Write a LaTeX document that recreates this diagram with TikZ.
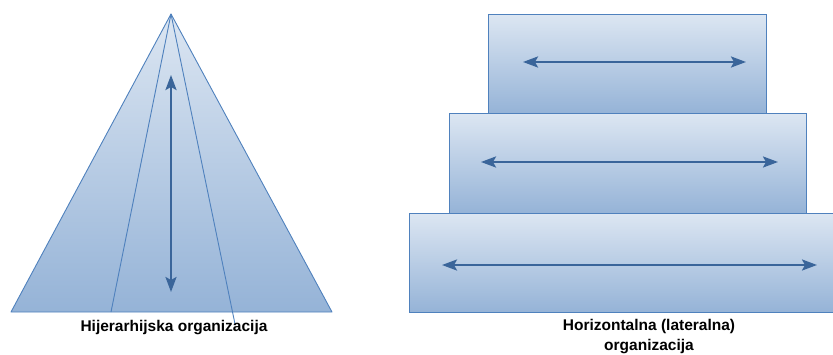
\documentclass[tikz,border=0pt]{standalone}
\usepackage{fontspec}
\setmainfont{Liberation Sans}
\usetikzlibrary{arrows.meta}
\definecolor{lite}{HTML}{DCE6F2}
\definecolor{dark}{HTML}{95B3D7}
\definecolor{edge}{HTML}{4F81BD}
\definecolor{arr}{HTML}{3A659A}
\tikzset{
  box/.style={draw=edge, line width=0.9pt, top color=lite, bottom color=dark},
  dbl/.style={arr, line width=2.3pt, {Stealth[length=15pt,width=11pt,inset=3pt]}-{Stealth[length=15pt,width=11pt,inset=3pt]}},
  thin/.style={draw=edge, line width=0.9pt},
  lbl/.style={font=\fontsize{15.5}{20}\selectfont\bfseries, align=center, text=black}
}
\begin{document}
\begin{tikzpicture}[x=1pt,y=-1pt]
\useasboundingbox (0,0) rectangle (833,354);
% pyramid
\coordinate (apex) at (171,14);
\coordinate (bl) at (11,312);
\coordinate (br) at (332,312);
\coordinate (il) at (111,312);
\coordinate (ir) at (235,324);
\path[top color=lite, bottom color=dark] (apex) -- (br) -- (bl) -- cycle;
\draw[thin, line join=round] (apex) -- (br) -- (bl) -- cycle;
\draw[thin] (apex) -- (il);
\draw[thin] (apex) -- (ir);
\coordinate (vt) at (171,75);
\coordinate (vb) at (171,292);
\draw[dbl] (vt) -- (vb);
\node[lbl] (hl) at (174,328) {Hijerarhijska organizacija};
% steps
\node[box, minimum width=424pt, minimum height=99pt, anchor=north west, inner sep=0pt] (r3) at (409,213) {};
\node[box, minimum width=357pt, minimum height=100pt, anchor=north west, inner sep=0pt] (r2) at (449,113) {};
\node[box, minimum width=278pt, minimum height=99pt, anchor=north west, inner sep=0pt] (r1) at (488,14) {};
\coordinate (a1l) at (523,62);
\coordinate (a1r) at (746,62);
\coordinate (a2l) at (481,162);
\coordinate (a2r) at (778,162);
\coordinate (a3l) at (442,265);
\coordinate (a3r) at (817,265);
\draw[dbl] (a1l) -- (a1r);
\draw[dbl] (a2l) -- (a2r);
\draw[dbl] (a3l) -- (a3r);
\node[lbl] (hr) at (649,337) {Horizontalna (lateralna)\\organizacija};
\end{tikzpicture}
\end{document}
